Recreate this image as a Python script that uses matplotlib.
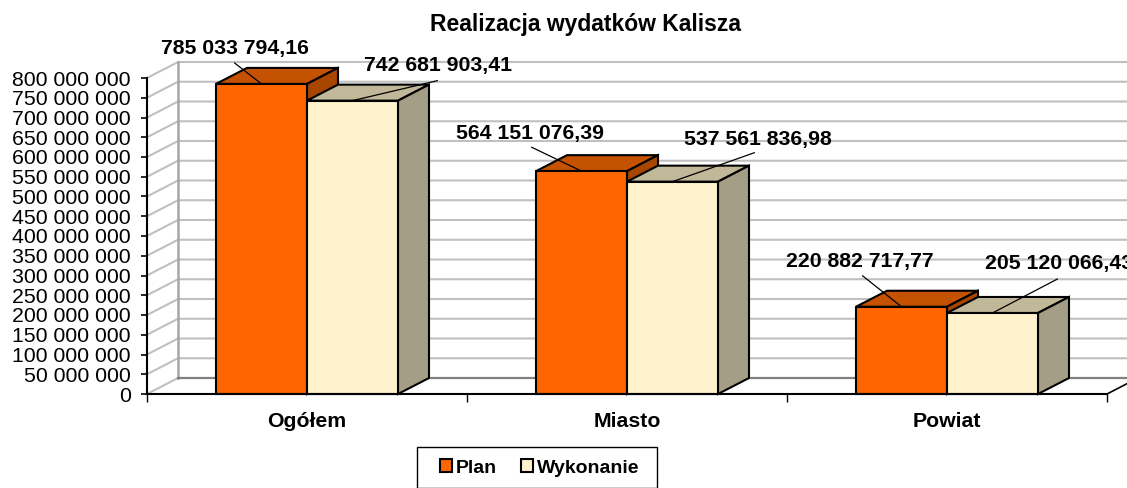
import matplotlib
matplotlib.use("Agg")
import matplotlib.pyplot as plt
from matplotlib.patches import Polygon, Patch, Rectangle

plt.rcParams['font.family'] = ['Liberation Sans', 'DejaVu Sans']

categories = ["Ogółem", "Miasto", "Powiat"]
series_names = ["Plan", "Wykonanie"]
plan = [785033794.16, 564151076.39, 220882717.77]
wykonanie = [742681903.41, 537561836.98, 205120066.43]
y_ticks = [0, 50e6, 100e6, 150e6, 200e6, 250e6, 300e6, 350e6, 400e6, 450e6,
           500e6, 550e6, 600e6, 650e6, 700e6, 750e6, 800e6]

W, H = 1127, 488
L, R, T, B = 147, 1107, 78, 394
fig = plt.figure(figsize=(W / 100, H / 100), dpi=100, facecolor='white')
ax = fig.add_axes([L / W, 1 - B / H, (R - L) / W, (B - T) / H])
ax.set_xlim(-0.5, 2.5)
ax.set_ylim(0, 800e6)
ax.patch.set_visible(False)

px_x = 3 / (R - L)
px_y = 800e6 / (B - T)
dx, dy = 31 * px_x, 16 * px_y
bar_w = 91 * px_x


def fmt_int(v):
    return f"{int(v):,}".replace(",", " ")


def fmt_val(v):
    return f"{v:,.2f}".replace(",", " ").replace(".", ",")


# walls
GRID = '#C0C0C0'
for t in y_ticks[1:]:
    ax.plot([-0.5, -0.5 + dx, 2.5 + dx], [t, t + dy, t + dy], color=GRID, lw=1.5,
            clip_on=False, zorder=1, solid_joinstyle='miter')
ax.plot([-0.5, -0.5 + dx], [0, dy], color=GRID, lw=1.5, clip_on=False, zorder=1)
ax.plot([-0.5 + dx, -0.5 + dx], [dy, 800e6 + dy], color='#A6A6A6', lw=1.8, clip_on=False, zorder=1.2)
ax.plot([-0.5 + dx, 2.5 + dx], [dy, dy], color='#808080', lw=1.6, clip_on=False, zorder=1.2)
ax.plot([2.5, 2.5 + dx], [0, dy], color='black', lw=1.2, clip_on=False, zorder=1.3)


def bar3d(x0, v, front, top, side, z):
    edge = dict(edgecolor='black', linewidth=1.5, joinstyle='miter', clip_on=False, zorder=z)
    x1 = x0 + bar_w
    ax.add_patch(Polygon([(x0, v), (x1, v), (x1 + dx, v + dy), (x0 + dx, v + dy)], facecolor=top, **edge))
    ax.add_patch(Polygon([(x1, 0), (x1 + dx, dy), (x1 + dx, v + dy), (x1, v)], facecolor=side, **edge))
    ax.bar([x0], [v], width=bar_w, align='edge', color=front, clip_on=False, zorder=z,
           edgecolor='black', linewidth=1.5)


label_offsets = [[(-27, 35), (86, 35)], [(-51.5, 38), (85, 42)], [(-41.5, 45), (67, 49)]]
leader_ends = [[(-27, 21), (85, 20)], [(-50, 24), (82, 29)], [(-39, 31), (65, 34)]]

for i, (p, w) in enumerate(zip(plan, wykonanie)):
    bar3d(i - bar_w, p, '#FF6600', '#C45200', '#A84600', 3 + i)
    bar3d(i, w, '#FFF2CC', '#C0B899', '#A39E85', 3.5 + i)
    for j, (x, v) in enumerate(((i - bar_w / 2, p), (i + bar_w / 2, w))):
        ox, oy = label_offsets[i][j]
        ex, ey = leader_ends[i][j]
        ax.annotate("", xy=(x, v), xytext=(ex * 0.72, ey * 0.72), textcoords='offset points',
                    xycoords='data', annotation_clip=False, zorder=8,
                    arrowprops=dict(arrowstyle='-', color='black', lw=0.9, shrinkA=0, shrinkB=0))
        ax.annotate(fmt_val(v), xy=(x, v), xytext=(ox * 0.72, oy * 0.72), textcoords='offset points',
                    ha='center', va='center', fontsize=15.3, fontweight='bold', color='black',
                    annotation_clip=False, zorder=9)

# axes
for s in ('top', 'right'):
    ax.spines[s].set_visible(False)
for s in ('left', 'bottom'):
    ax.spines[s].set_linewidth(1.5)
    ax.spines[s].set_zorder(7)
ax.set_yticks(y_ticks)
ax.set_yticklabels([fmt_int(t) for t in y_ticks], fontsize=15.3)
ax.tick_params(axis='y', length=4, width=1.2, pad=7.8)
ax.set_xticks([0, 1, 2])
ax.set_xticklabels(categories, fontsize=15.3, fontweight='bold')
ax.set_xticks([-0.5, 0.5, 1.5, 2.5], minor=True)
ax.tick_params(axis='x', which='major', length=0, pad=13)
ax.tick_params(axis='x', which='minor', length=6, width=1.0)

fig.text(586 / W, 1 - 24 / H, "Realizacja wydatków Kalisza", ha='center', va='center',
         fontsize=16.5, fontweight='bold')

fig.add_artist(Rectangle((417 / W, 1 - 487.5 / H), 240 / W, 41 / H, transform=fig.transFigure,
                         facecolor='white', edgecolor='black', linewidth=1.0))
handles = [Patch(facecolor='#FF6600', edgecolor='black', linewidth=1.5),
           Patch(facecolor='#FFF2CC', edgecolor='black', linewidth=1.5)]
leg = fig.legend(handles, series_names, loc='center', bbox_to_anchor=(539.5 / W, 1 - 468 / H),
                 ncol=2, frameon=False,
                 prop={'size': 14, 'weight': 'bold'},
                 handlelength=0.6, handleheight=0.6, handletextpad=0.2, columnspacing=1.25,
                 borderpad=0.3, borderaxespad=0)

fig.savefig("out.png", dpi=100)
